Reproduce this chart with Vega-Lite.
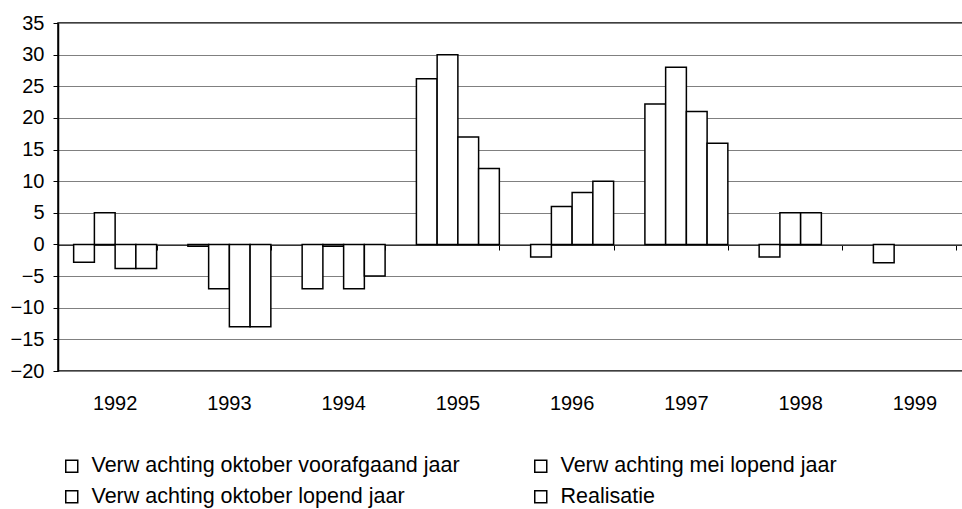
{
  "$schema": "https://vega.github.io/schema/vega-lite/v6.json",
  "width": 914,
  "height": 348,
  "autosize": {"type": "none"},
  "padding": {"left": 58, "top": 23, "right": -10, "bottom": 138},
  "background": "white",
  "config": {
    "font": "Liberation Sans",
    "view": {"stroke": "black", "strokeWidth": 1.5}
  },
  "data": {
    "values": [
      {"jaar": "1992", "reeks": "Verw achting oktober voorafgaand jaar", "waarde": -2.8},
      {"jaar": "1992", "reeks": "Verw achting mei lopend jaar", "waarde": 5},
      {"jaar": "1992", "reeks": "Verw achting oktober lopend jaar", "waarde": -3.8},
      {"jaar": "1992", "reeks": "Realisatie", "waarde": -3.8},
      {"jaar": "1993", "reeks": "Verw achting oktober voorafgaand jaar", "waarde": -0.3},
      {"jaar": "1993", "reeks": "Verw achting mei lopend jaar", "waarde": -7},
      {"jaar": "1993", "reeks": "Verw achting oktober lopend jaar", "waarde": -13},
      {"jaar": "1993", "reeks": "Realisatie", "waarde": -13},
      {"jaar": "1994", "reeks": "Verw achting oktober voorafgaand jaar", "waarde": -7},
      {"jaar": "1994", "reeks": "Verw achting mei lopend jaar", "waarde": -0.3},
      {"jaar": "1994", "reeks": "Verw achting oktober lopend jaar", "waarde": -7},
      {"jaar": "1994", "reeks": "Realisatie", "waarde": -5},
      {"jaar": "1995", "reeks": "Verw achting oktober voorafgaand jaar", "waarde": 26.2},
      {"jaar": "1995", "reeks": "Verw achting mei lopend jaar", "waarde": 30},
      {"jaar": "1995", "reeks": "Verw achting oktober lopend jaar", "waarde": 17},
      {"jaar": "1995", "reeks": "Realisatie", "waarde": 12},
      {"jaar": "1996", "reeks": "Verw achting oktober voorafgaand jaar", "waarde": -2},
      {"jaar": "1996", "reeks": "Verw achting mei lopend jaar", "waarde": 6},
      {"jaar": "1996", "reeks": "Verw achting oktober lopend jaar", "waarde": 8.2},
      {"jaar": "1996", "reeks": "Realisatie", "waarde": 10},
      {"jaar": "1997", "reeks": "Verw achting oktober voorafgaand jaar", "waarde": 22.2},
      {"jaar": "1997", "reeks": "Verw achting mei lopend jaar", "waarde": 28},
      {"jaar": "1997", "reeks": "Verw achting oktober lopend jaar", "waarde": 21},
      {"jaar": "1997", "reeks": "Realisatie", "waarde": 16},
      {"jaar": "1998", "reeks": "Verw achting oktober voorafgaand jaar", "waarde": -2},
      {"jaar": "1998", "reeks": "Verw achting mei lopend jaar", "waarde": 5},
      {"jaar": "1998", "reeks": "Verw achting oktober lopend jaar", "waarde": 5},
      {"jaar": "1999", "reeks": "Verw achting oktober voorafgaand jaar", "waarde": -2.9}
    ]
  },
  "layer": [
    {
      "mark": {"type": "bar", "opacity": 0},
      "encoding": {
        "x": {
          "field": "jaar", "type": "nominal",
          "scale": {"paddingInner": 0.274, "paddingOuter": 0.137},
          "axis": {
            "orient": "bottom", "offset": -126, "title": null, "labels": false,
            "ticks": true, "tickSize": 5, "tickColor": "black", "tickWidth": 1,
            "tickBand": "extent", "domain": true, "domainColor": "#333333", "domainWidth": 1, "grid": false
          }
        },
        "xOffset": {
          "field": "reeks", "type": "nominal",
          "sort": ["Verw achting oktober voorafgaand jaar", "Verw achting mei lopend jaar", "Verw achting oktober lopend jaar", "Realisatie"],
          "scale": {"paddingInner": 0, "paddingOuter": 0}
        },
        "y": {
          "field": "waarde", "type": "quantitative",
          "scale": {"domain": [-20, 35], "nice": false, "zero": false},
          "axis": {
            "title": null, "values": [-20, -15, -10, -5, 0, 5, 10, 15, 20, 25, 30, 35],
            "labelFontSize": 20, "labelColor": "black", "labelPadding": 9,
            "tickSize": 5, "tickColor": "black", "domainColor": "black", "domainWidth": 1.5,
            "grid": true, "gridColor": "#808080", "gridWidth": 1
          }
        }
      }
    },
    {
      "mark": {"type": "bar", "stroke": "black", "strokeWidth": 1.5},
      "encoding": {
        "x": {
          "field": "jaar", "type": "nominal",
          "axis": {
            "orient": "bottom", "title": null, "labelAngle": 0, "labelFontSize": 20,
            "labelColor": "black", "labelPadding": 22, "ticks": false, "domain": false, "grid": false
          }
        },
        "xOffset": {
          "field": "reeks", "type": "nominal",
          "sort": ["Verw achting oktober voorafgaand jaar", "Verw achting mei lopend jaar", "Verw achting oktober lopend jaar", "Realisatie"]
        },
        "y": {
          "field": "waarde", "type": "quantitative",
          "axis": {
            "title": null, "values": [-20, -15, -10, -5, 0, 5, 10, 15, 20, 25, 30, 35],
            "labelFontSize": 20, "labelColor": "black", "labelPadding": 9,
            "tickSize": 5, "tickColor": "black", "domainColor": "black", "domainWidth": 1.5,
            "grid": true, "gridColor": "#808080", "gridWidth": 1
          }
        },
        "fill": {
          "field": "reeks", "type": "nominal",
          "sort": ["Verw achting oktober voorafgaand jaar", "Verw achting oktober lopend jaar", "Verw achting mei lopend jaar", "Realisatie"],
          "scale": {"range": ["white", "white", "white", "white"]},
          "legend": {
            "orient": "none", "legendX": 3, "legendY": 432, "columns": 2, "title": null,
            "symbolType": "square", "symbolSize": 144, "symbolStrokeColor": "black", "symbolStrokeWidth": 1.5,
            "labelFontSize": 21.5, "labelColor": "black", "labelOffset": 9, "labelLimit": 600,
            "columnPadding": 70, "rowPadding": 8, "padding": 0
          }
        }
      }
    }
  ],
  "resolve": {"axis": {"x": "independent"}}
}
